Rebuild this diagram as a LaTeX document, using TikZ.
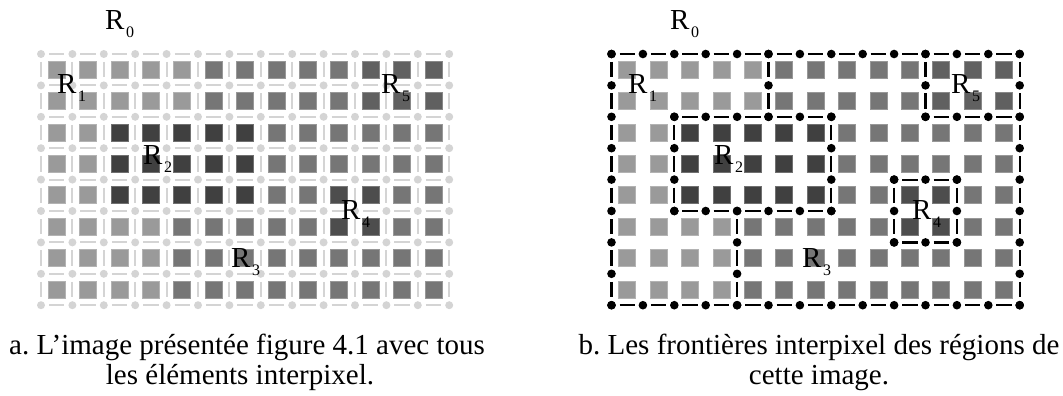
\documentclass[tikz,border=0pt]{standalone}
\usepackage{fontspec}
\setmainfont{Liberation Serif}
\frenchspacing
\definecolor{cA}{HTML}{9A9A9A}
\definecolor{cB}{HTML}{404040}
\definecolor{cC}{HTML}{767676}
\definecolor{cD}{HTML}{4D4D4D}
\definecolor{cE}{HTML}{606060}
\definecolor{ipgray}{HTML}{D4D4D4}
\newcommand{\Rlab}[1]{R\kern1.5pt\raisebox{-8pt}{\fontsize{16}{16}\selectfont #1}}
\tikzset{
  pixA/.style={fill=cA, draw=cA!75!white, line width=0.8pt},
  pixB/.style={fill=cB, draw=cB!75!white, line width=0.8pt},
  pixC/.style={fill=cC, draw=cC!75!white, line width=0.8pt},
  pixD/.style={fill=cD, draw=cD!75!white, line width=0.8pt},
  pixE/.style={fill=cE, draw=cE!75!white, line width=0.8pt},
  ipseg/.style={draw=ipgray, line width=2pt},
  ipdot/.style={fill=ipgray},
  bdseg/.style={draw=black, line width=2.2pt},
  bddot/.style={fill=black},
  rlab/.style={font=\fontsize{29}{29}\selectfont, inner sep=0pt, anchor=base west},
  captxt/.style={font=\fontsize{29}{30}\selectfont, inner sep=0pt, anchor=base}
}
\begin{document}
\begin{tikzpicture}[x=1pt,y=-1pt]
\useasboundingbox (0,0) rectangle (1063,396);
\def\d{31.4}
% pixels for both grids
\foreach \ox in {41,611.5} {
  \foreach \rowlist [count=\r from 0] in {
    {A,A,A,A,A,C,C,C,C,C,E,E,E},
    {A,A,A,A,A,C,C,C,C,C,E,E,E},
    {A,A,B,B,B,B,B,C,C,C,C,C,C},
    {A,A,B,B,B,B,B,C,C,C,C,C,C},
    {A,A,B,B,B,B,B,C,C,D,D,C,C},
    {A,A,A,A,C,C,C,C,C,D,D,C,C},
    {A,A,A,A,C,C,C,C,C,C,C,C,C},
    {A,A,A,A,C,C,C,C,C,C,C,C,C}} {
    \foreach \t [count=\c from 0] in \rowlist {
      \path[pix\t] ({\ox+\c*\d+7.2},{54+\r*\d+7.2}) rectangle ++(17,17);
    }
  }
}
% left grid: all interpixel elements
\foreach \i in {0,...,12} {
  \foreach \j in {0,...,8} {
    \draw[ipseg] ({41+\i*\d+8},{54+\j*\d}) -- ({41+(\i+1)*\d-8},{54+\j*\d});
  }
}
\foreach \i in {0,...,13} {
  \foreach \j in {0,...,7} {
    \draw[ipseg] ({41+\i*\d},{54+\j*\d+8}) -- ({41+\i*\d},{54+(\j+1)*\d-8});
  }
}
\foreach \i in {0,...,13} {
  \foreach \j in {0,...,8} {
    \fill[ipdot] ({41+\i*\d},{54+\j*\d}) circle[radius=4pt];
  }
}
% right grid: region boundaries
\def\ox{611.5}
\foreach \j/\a/\b in {0/0/13, 8/0/13, 2/2/7, 2/10/13, 5/2/7, 4/9/11, 6/9/11} {
  \pgfmathtruncatemacro{\bm}{\b-1}
  \foreach \i in {\a,...,\bm} {
    \draw[bdseg] ({\ox+\i*\d+8},{54+\j*\d}) -- ({\ox+(\i+1)*\d-8},{54+\j*\d});
  }
  \foreach \i in {\a,...,\b} {
    \fill[bddot] ({\ox+\i*\d},{54+\j*\d}) circle[radius=4.3pt];
  }
}
\foreach \i/\a/\b in {0/0/8, 13/0/8, 5/0/2, 10/0/2, 2/2/5, 7/2/5, 4/5/8, 9/4/6, 11/4/6} {
  \pgfmathtruncatemacro{\bm}{\b-1}
  \foreach \j in {\a,...,\bm} {
    \draw[bdseg] ({\ox+\i*\d},{54+\j*\d+8}) -- ({\ox+\i*\d},{54+(\j+1)*\d-8});
  }
  \foreach \j in {\a,...,\b} {
    \fill[bddot] ({\ox+\i*\d},{54+\j*\d}) circle[radius=4.3pt];
  }
}
% labels left
\node[rlab] (la0) at (105,30) {\Rlab{0}};
\node[rlab] (la1) at (57,93) {\Rlab{1}};
\node[rlab] (la5) at (381,93) {\Rlab{5}};
\node[rlab] (la2) at (143,164) {\Rlab{2}};
\node[rlab] (la4) at (341,219) {\Rlab{4}};
\node[rlab] (la3) at (231,267) {\Rlab{3}};
% labels right
\node[rlab] (lb0) at (670,30) {\Rlab{0}};
\node[rlab] (lb1) at (628,93) {\Rlab{1}};
\node[rlab] (lb5) at (951,93) {\Rlab{5}};
\node[rlab] (lb2) at (714,164) {\Rlab{2}};
\node[rlab] (lb4) at (912,219) {\Rlab{4}};
\node[rlab] (lb3) at (802,267) {\Rlab{3}};
% captions
\node[captxt] (ca1) at (247,354) {a. L’image présentée figure 4.1 avec tous};
\node[captxt] (ca2) at (240,384) {les éléments interpixel.};
\node[captxt] (cb1) at (819,354) {b. Les frontières interpixel des régions de};
\node[captxt] (cb2) at (819,384) {cette image.};
\end{tikzpicture}
\end{document}
